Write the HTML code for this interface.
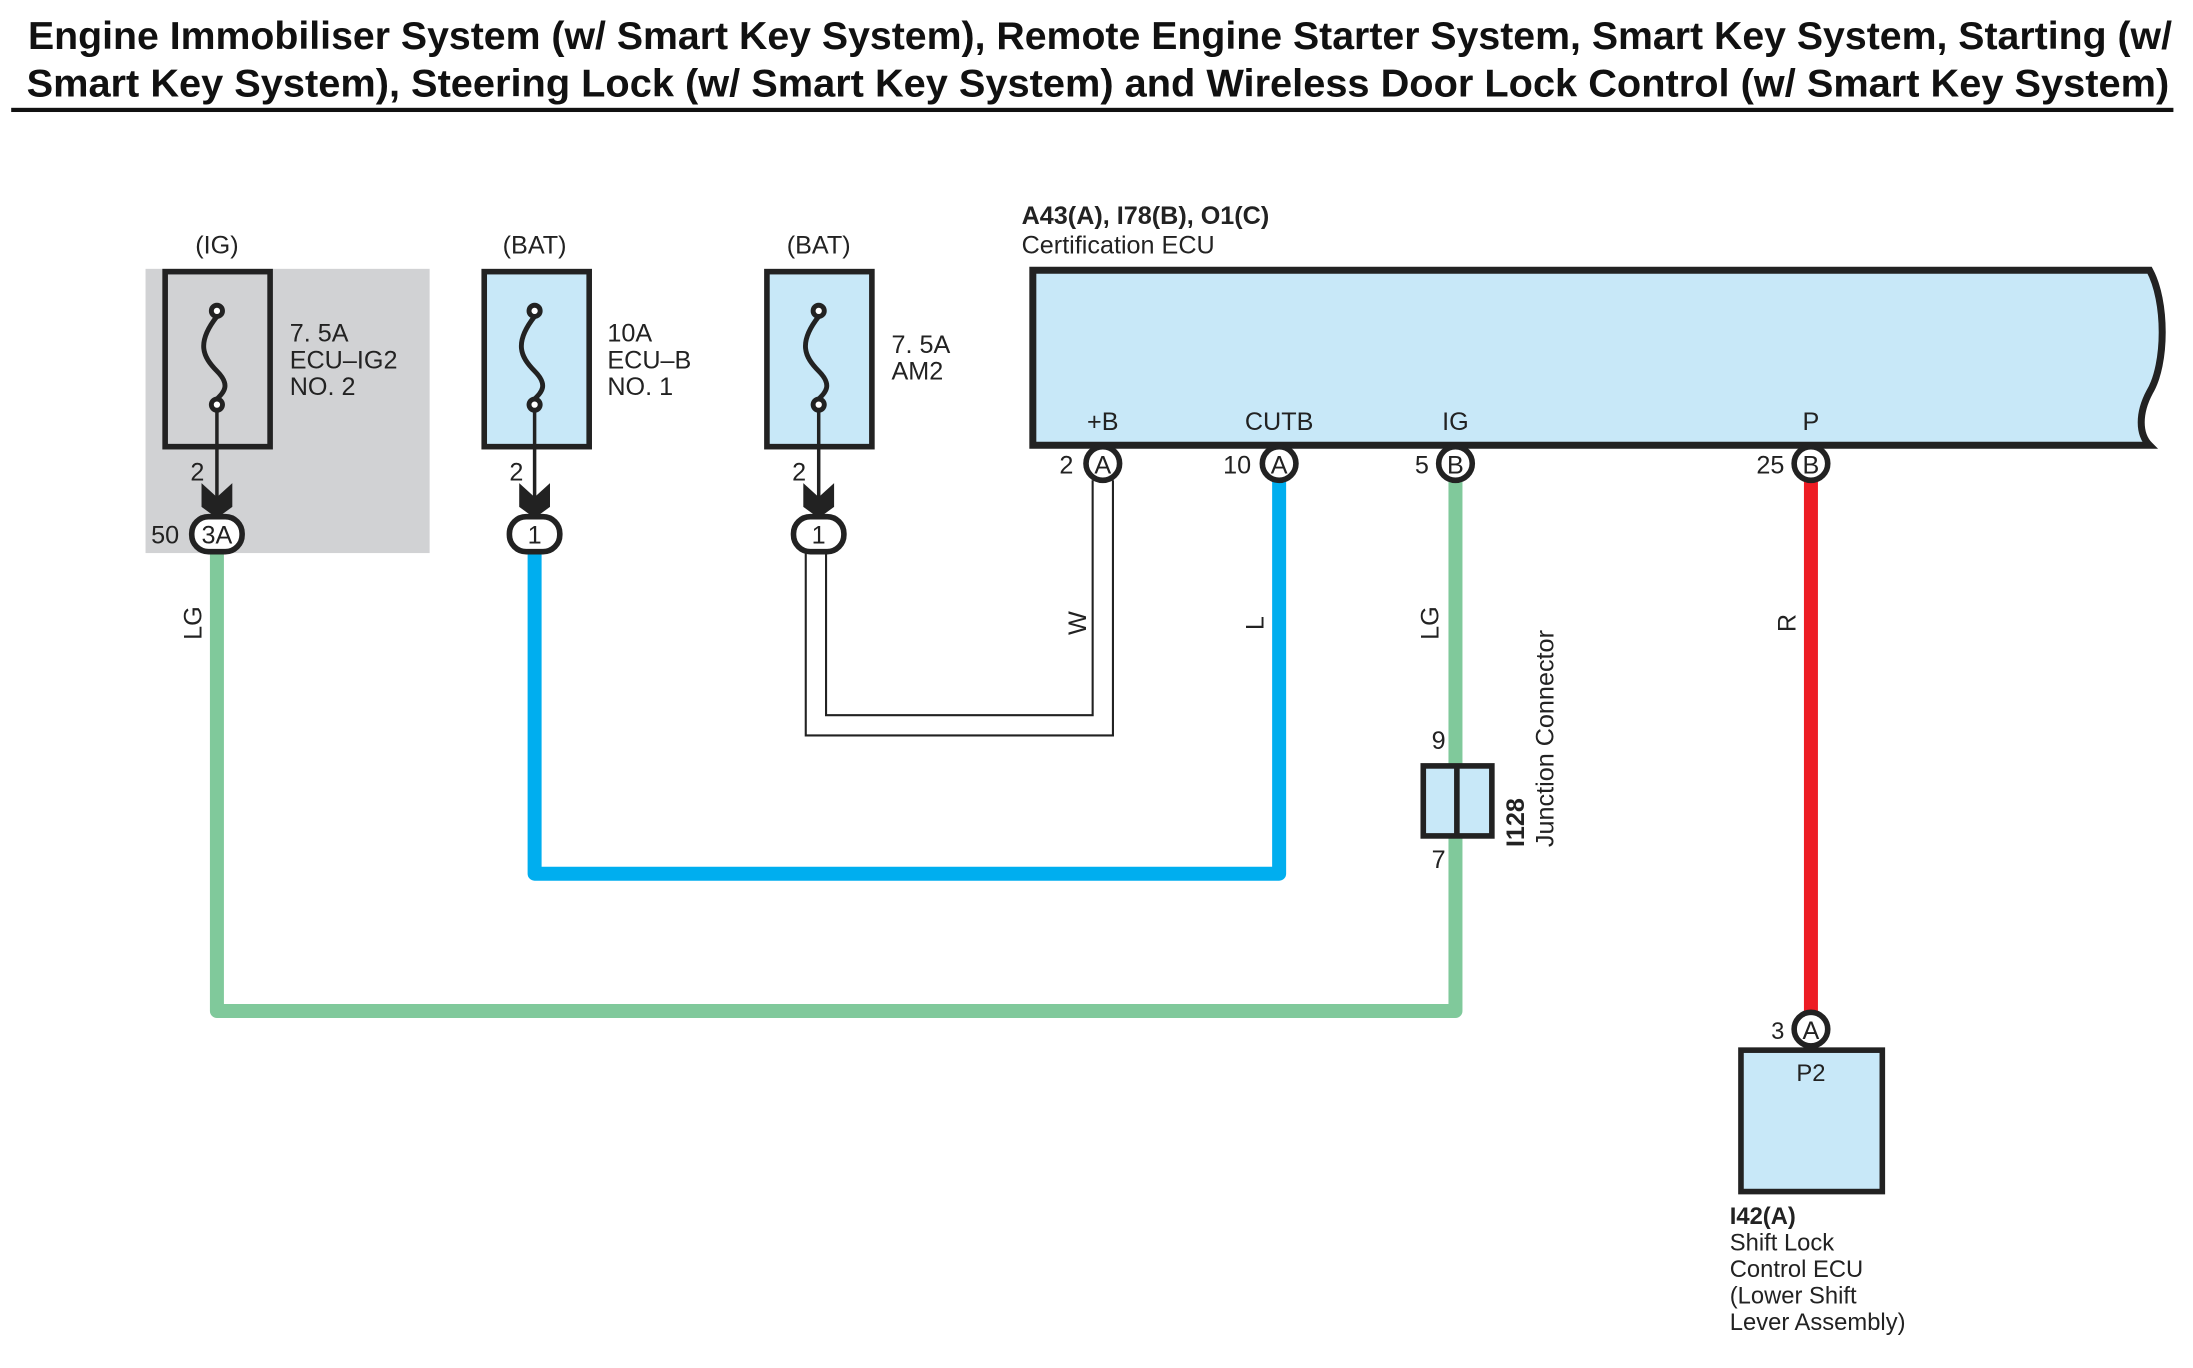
<!DOCTYPE html>
<html><head><meta charset="utf-8"><style>
html,body{margin:0;padding:0;background:#fff;}
svg{display:block;}
.t{font-family:"Liberation Sans",Arial,sans-serif;font-weight:bold;font-size:28px;fill:#111;}
.n{font-family:"Liberation Sans Narrow","Liberation Sans",sans-serif;font-size:18px;fill:#222;}
.w{font-family:"Liberation Sans",sans-serif;font-size:17px;fill:#222;}
</style></head><body>
<svg width="2193" height="1368" viewBox="0 0 1567 977" preserveAspectRatio="none" xmlns="http://www.w3.org/2000/svg">
<text class="t" x="20" y="35" textLength="1532" lengthAdjust="spacingAndGlyphs">Engine Immobiliser System (w/ Smart Key System), Remote Engine Starter System, Smart Key System, Starting (w/</text>
<text class="t" x="19" y="69" textLength="1531" lengthAdjust="spacingAndGlyphs">Smart Key System), Steering Lock (w/ Smart Key System) and Wireless Door Lock Control (w/ Smart Key System)</text>
<rect x="8" y="77" width="1545" height="3" fill="#111"/>

<rect x="104" y="192" width="203" height="203" fill="#d1d2d4"/>

<!-- wires -->
<path d="M583 395 V518 H788 V343" fill="none" stroke="#222" stroke-width="16"/>
<path d="M583 393 V518 H788 V343" fill="none" stroke="#fff" stroke-width="13"/>
<path d="M382 395 V624 H914 V343" fill="none" stroke="#00aeef" stroke-width="10" stroke-linejoin="round"/>
<path d="M155 395 V722 H1040 V598" fill="none" stroke="#80c99b" stroke-width="10" stroke-linejoin="round"/>
<path d="M1040 343 V546" fill="none" stroke="#80c99b" stroke-width="10"/>
<path d="M1294 343 V726" fill="none" stroke="#ed1c24" stroke-width="10"/>

<!-- fuses -->
<g stroke="#222" stroke-width="4">
<rect x="118" y="194" width="75" height="125" fill="#d1d2d4"/>
<rect x="346" y="194" width="75" height="125" fill="#c8e8f8"/>
<rect x="548" y="194" width="75" height="125" fill="#c8e8f8"/>
</g>
<g id="f1" fill="none" stroke="#222" stroke-width="3.5">
<circle cx="155" cy="222" r="4" fill="#fff"/>
<path d="M155 226 C140 245,145 255,155 265 C165 275,160 280,155 285"/>
<circle cx="155" cy="289" r="4" fill="#fff"/>
<path d="M155 293 V360" stroke-width="2.5"/>
</g>
<use href="#f1" x="227"/>
<use href="#f1" x="430"/>
<g fill="#222">
<path d="M144 345 L155 355 L166 345 L166 362 L155 370 L144 362Z"/>
<path d="M371 345 L382 355 L393 345 L393 362 L382 370 L371 362Z"/>
<path d="M574 345 L585 355 L596 345 L596 362 L585 370 L574 362Z"/>
</g>
<g stroke="#222" stroke-width="4" fill="#fff">
<rect x="137" y="369" width="36" height="25" rx="12"/>
<rect x="364" y="369" width="36" height="25" rx="12"/>
<rect x="567" y="369" width="36" height="25" rx="12"/>
</g>
<text class="n" x="155" y="388" text-anchor="middle">3A</text>
<text class="n" x="382" y="388" text-anchor="middle">1</text>
<text class="n" x="585" y="388" text-anchor="middle">1</text>
<text class="n" x="108" y="388">50</text>
<text class="n" x="136" y="343">2</text>
<text class="n" x="364" y="343">2</text>
<text class="n" x="566" y="343">2</text>
<text class="n" x="155" y="181" text-anchor="middle">(IG)</text>
<text class="n" x="382" y="181" text-anchor="middle">(BAT)</text>
<text class="n" x="585" y="181" text-anchor="middle">(BAT)</text>
<text class="n" x="207" y="244">7. 5A</text><text class="n" x="207" y="263">ECU–IG2</text><text class="n" x="207" y="282">NO. 2</text>
<text class="n" x="434" y="244">10A</text><text class="n" x="434" y="263">ECU–B</text><text class="n" x="434" y="282">NO. 1</text>
<text class="n" x="637" y="252">7. 5A</text><text class="n" x="637" y="271">AM2</text>

<!-- ECU -->
<text class="n" x="730" y="160" style="font-weight:bold">A43(A), I78(B), O1(C)</text>
<text class="n" x="730" y="181">Certification ECU</text>
<path d="M738 193 H1536 C1548 215,1548 260,1536 280 C1528 295,1528 310,1536 318 H738 Z" fill="#c8e8f8" stroke="#222" stroke-width="5"/>
<text class="n" x="788" y="307" text-anchor="middle">+B</text>
<text class="n" x="914" y="307" text-anchor="middle">CUTB</text>
<text class="n" x="1040" y="307" text-anchor="middle">IG</text>
<text class="n" x="1294" y="307" text-anchor="middle">P</text>
<g stroke="#222" stroke-width="4" fill="#fff">
<circle cx="788" cy="331" r="12"/><circle cx="914" cy="331" r="12"/><circle cx="1040" cy="331" r="12"/><circle cx="1294" cy="331" r="12"/>
<circle cx="1294" cy="735" r="12"/>
</g>
<text class="n" x="788" y="338" text-anchor="middle">A</text>
<text class="n" x="914" y="338" text-anchor="middle">A</text>
<text class="n" x="1040" y="338" text-anchor="middle">B</text>
<text class="n" x="1294" y="338" text-anchor="middle">B</text>
<text class="n" x="1294" y="742" text-anchor="middle">A</text>
<text class="n" x="767" y="338" text-anchor="end">2</text>
<text class="n" x="894" y="338" text-anchor="end">10</text>
<text class="n" x="1021" y="338" text-anchor="end">5</text>
<text class="n" x="1275" y="338" text-anchor="end">25</text>
<text class="w" x="1275" y="742" text-anchor="end">3</text>

<!-- wire labels -->
<g class="n">
<text transform="translate(144,445) rotate(-90)" text-anchor="middle">LG</text>
<text transform="translate(776,445) rotate(-90)" text-anchor="middle">W</text>
<text transform="translate(903,445) rotate(-90)" text-anchor="middle">L</text>
<text transform="translate(1028,445) rotate(-90)" text-anchor="middle">LG</text>
<text transform="translate(1283,445) rotate(-90)" text-anchor="middle">R</text>
</g>

<!-- junction -->
<rect x="1017" y="547" width="49" height="50" fill="#c8e8f8" stroke="#222" stroke-width="4"/>
<rect x="1039" y="547" width="4" height="50" fill="#222"/>
<text class="n" x="1028" y="535" text-anchor="middle">9</text>
<text class="n" x="1028" y="620" text-anchor="middle">7</text>
<text class="n" transform="translate(1089,605) rotate(-90)" style="font-weight:bold">I128</text>
<text class="n" transform="translate(1110,605) rotate(-90)">Junction Connector</text>

<!-- P2 -->
<rect x="1244" y="750" width="101" height="101" fill="#c8e8f8" stroke="#222" stroke-width="4"/>
<text class="w" x="1294" y="772" text-anchor="middle">P2</text>
<text class="w" x="1236" y="874" style="font-weight:bold">I42(A)</text>
<text class="w" x="1236" y="893">Shift Lock</text>
<text class="w" x="1236" y="912">Control ECU</text>
<text class="w" x="1236" y="931">(Lower Shift</text>
<text class="w" x="1236" y="950"> Lever Assembly)</text>
</svg>
</body></html>
